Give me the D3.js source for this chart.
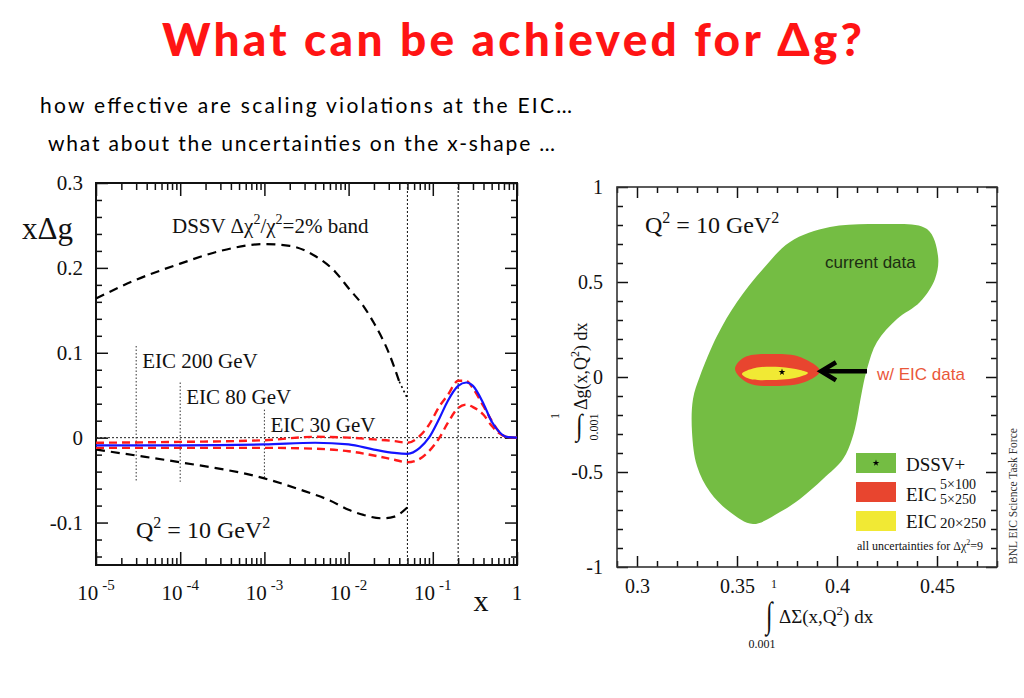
<!DOCTYPE html>
<html>
<head>
<meta charset="utf-8">
<script src="https://cdn.jsdelivr.net/npm/d3@7"></script>
<style>
  body { margin: 0; background: #fff; }
  svg text { font-family: "Liberation Serif", "Times New Roman", serif; fill: #111; }
</style>
</head>
<body>
<div id="chart"></div>
<script>
const width = 1024;
const height = 698;

// ---- left panel: x * Delta g(x) at Q^2 = 10 GeV^2 ----
const curveX      = [1e-5, 1e-4, 1e-3, 4e-3, 1e-2, 2e-2, 3.5e-2, 5e-2, 7e-2, 0.09, 0.12, 0.15, 0.2, 0.25, 0.3, 0.4, 0.5, 0.6, 0.75, 1];
const dssvCentral = [-0.009, -0.009, -0.008, -0.006, -0.008, -0.014, -0.018, -0.019, -0.012, 0.0, 0.023, 0.043, 0.061, 0.065, 0.061, 0.040, 0.019, 0.008, 0.001, 0];
const eicUpper    = [-0.006, -0.005, -0.003, 0.001, 0.0, -0.002, -0.004, -0.006, 0.002, 0.015, 0.037, 0.050, 0.067, 0.067, 0.058, 0.037, 0.020, 0.008, 0.001, 0];
const eicLower    = [-0.012, -0.012, -0.012, -0.013, -0.016, -0.021, -0.026, -0.029, -0.025, -0.016, 0.0, 0.017, 0.035, 0.039, 0.036, 0.027, 0.014, 0.006, 0.001, 0];

const bandUpperX = [1e-5, 3e-5, 1e-4, 3e-4, 1e-3, 2e-3, 4e-3, 7e-3, 1e-2, 1.5e-2, 2e-2, 3e-2, 4e-2];
const bandUpper  = [0.164, 0.186, 0.205, 0.220, 0.228, 0.226, 0.214, 0.195, 0.176, 0.155, 0.135, 0.100, 0.066];
const bandUpperTailX = [4e-2, 5e-2];
const bandUpperTail  = [0.066, 0.046];
const bandLowerX = [1e-5, 3e-5, 1e-4, 1e-3, 3e-3, 6e-3, 1e-2, 1.5e-2, 2.5e-2, 3.5e-2, 5e-2];
const bandLower  = [-0.014, -0.021, -0.029, -0.048, -0.063, -0.074, -0.085, -0.091, -0.095, -0.093, -0.082];

const eicLabels  = ["EIC 200 GeV", "EIC 80 GeV", "EIC 30 GeV"];
const eicXmin    = [3e-5, 1e-4, 1e-3];
const eicLineTop = [0.108, 0.065, 0.033];
const eicLineBot = [-0.052, -0.052, -0.047];
const fullLinesX = [0.05, 0.2];

const leftYTicks  = [0.3, 0.2, 0.1, 0, -0.1];
const leftYLabels = ["0.3", "0.2", "0.1", "0", "-0.1"];
const leftXExp    = [-5, -4, -3, -2, -1];

// ---- right panel: truncated moments ----
const currentData = [
  [0.4215, 0.805], [0.445, 0.779], [0.4505, 0.637], [0.449, 0.516], [0.4415, 0.395],
  [0.430, 0.305], [0.420, 0.184], [0.415, 0.042], [0.4115, -0.132], [0.410, -0.221],
  [0.4075, -0.326], [0.403, -0.432], [0.393, -0.537], [0.3815, -0.642], [0.3715, -0.711],
  [0.358, -0.774], [0.3465, -0.711], [0.3365, -0.605], [0.330, -0.468], [0.3275, -0.289],
  [0.328, -0.116], [0.3315, 0.005], [0.340, 0.216], [0.350, 0.395], [0.363, 0.568],
  [0.3765, 0.711], [0.3965, 0.789]
];
const eicLowE = [
  [0.349, 0.042], [0.354, 0.105], [0.369, 0.121], [0.3815, 0.105],
  [0.3915, 0.032], [0.384, -0.026], [0.369, -0.047], [0.3555, -0.032]
];
const eicHighE = [
  [0.3525, 0.016], [0.359, 0.047], [0.3715, 0.053], [0.3815, 0.037],
  [0.3855, 0.021], [0.379, -0.005], [0.3665, -0.016], [0.3565, -0.011]
];
const dssvBest = [0.3725, 0.026];

const rightXTicks  = [0.3, 0.35, 0.4, 0.45];
const rightXLabels = ["0.3", "0.35", "0.4", "0.45"];
const rightYTicks  = [1, 0.5, 0, -0.5, -1];
const rightYLabels = ["1", "0.5", "0", "-0.5", "-1"];

const RED_TITLE = "#ff1414";
const GREEN = "#74bd43";
const RED_FILL = "#e8452f";
const YELLOW = "#f1e934";

const svg = d3.select("#chart").append("svg")
  .attr("width", width).attr("height", height)
  .style("background", "#fff");

// titles
svg.append("text").attr("x", 162).attr("y", 56)
  .attr("textLength", 700).attr("lengthAdjust", "spacing")
  .style("font-family", "Lato, 'Noto Sans', sans-serif").style("font-weight", 900)
  .style("font-size", "46px").style("fill", RED_TITLE)
  .text("What can be achieved for Δg?");
svg.append("text").attr("x", 40).attr("y", 113)
  .attr("textLength", 532).attr("lengthAdjust", "spacing")
  .style("font-family", "Lato, 'Noto Sans', sans-serif").style("font-size", "21px").style("fill", "#000")
  .text("how effective are scaling violations at the EIC…");
svg.append("text").attr("x", 48).attr("y", 151)
  .attr("textLength", 507).attr("lengthAdjust", "spacing")
  .style("font-family", "Lato, 'Noto Sans', sans-serif").style("font-size", "21px").style("fill", "#000")
  .text("what about the uncertainties on the x-shape …");

function tickLayer(g, axis, transform) {
  g.append("g").attr("transform", transform).call(axis)
    .call(s => s.select(".domain").remove())
    .call(s => s.selectAll("line").attr("stroke", "#111").attr("stroke-width", 1.5));
}

// ================= LEFT PANEL =================
const xL = d3.scaleLog().domain([1e-5, 1]).range([96, 517]);
const yL = d3.scaleLinear().domain([-0.15, 0.3]).range([565, 183]);
const left = svg.append("g");

const decades = [1e-5, 1e-4, 1e-3, 1e-2, 1e-1, 1];
const minorLog = [];
decades.slice(0, -1).forEach(d => { for (let m = 2; m < 10; m++) minorLog.push(m * d); });
const minorLinL = d3.range(-0.14, 0.3, 0.02).filter(v => Math.abs(Math.round(v * 10) - v * 10) > 1e-6);

tickLayer(left, d3.axisBottom(xL).tickValues(decades).tickSize(-13).tickFormat(""), `translate(0,${yL(-0.15)})`);
tickLayer(left, d3.axisBottom(xL).tickValues(minorLog).tickSize(-7).tickFormat(""), `translate(0,${yL(-0.15)})`);
tickLayer(left, d3.axisTop(xL).tickValues(decades).tickSize(-13).tickFormat(""), `translate(0,${yL(0.3)})`);
tickLayer(left, d3.axisTop(xL).tickValues(minorLog).tickSize(-7).tickFormat(""), `translate(0,${yL(0.3)})`);
tickLayer(left, d3.axisLeft(yL).tickValues(leftYTicks).tickSize(-12).tickFormat(""), `translate(${xL(1e-5)},0)`);
tickLayer(left, d3.axisLeft(yL).tickValues(minorLinL).tickSize(-6).tickFormat(""), `translate(${xL(1e-5)},0)`);
tickLayer(left, d3.axisRight(yL).tickValues(leftYTicks).tickSize(-12).tickFormat(""), `translate(${xL(1)},0)`);
tickLayer(left, d3.axisRight(yL).tickValues(minorLinL).tickSize(-6).tickFormat(""), `translate(${xL(1)},0)`);

left.append("rect").attr("x", xL(1e-5)).attr("y", yL(0.3))
  .attr("width", xL(1) - xL(1e-5)).attr("height", yL(-0.15) - yL(0.3))
  .attr("fill", "none").attr("stroke", "#111").attr("stroke-width", 2);

// y tick labels
left.append("g").attr("transform", `translate(${xL(1e-5)},0)`)
  .call(d3.axisLeft(yL).tickValues(leftYTicks).tickSize(0).tickPadding(13)
    .tickFormat((d, i) => leftYLabels[i]))
  .call(s => s.select(".domain").remove())
  .attr("font-family", null).attr("font-size", null)
  .selectAll("text").style("font-size", "21px").attr("fill", "#111");

// x tick labels 10^n
leftXExp.forEach(e => {
  const t = left.append("text").attr("x", xL(Math.pow(10, e))).attr("y", 600)
    .attr("text-anchor", "middle").style("font-size", "21px");
  t.append("tspan").text("10");
  t.append("tspan").attr("dx", 4).attr("dy", -10).style("font-size", "15px").text(String(e));
});
left.append("text").attr("x", xL(1)).attr("y", 600).attr("text-anchor", "middle")
  .style("font-size", "21px").text("1");
left.append("text").attr("x", 481).attr("y", 611).attr("text-anchor", "middle")
  .style("font-size", "30px").text("x");

// reference lines
left.append("line").attr("x1", xL(1e-5)).attr("x2", xL(1)).attr("y1", yL(0)).attr("y2", yL(0))
  .attr("stroke", "#222").attr("stroke-width", 1).attr("stroke-dasharray", "2,2");
fullLinesX.forEach(v => {
  left.append("line").attr("x1", xL(v)).attr("x2", xL(v)).attr("y1", yL(0.3)).attr("y2", yL(-0.15))
    .attr("stroke", "#222").attr("stroke-width", 1.1).attr("stroke-dasharray", "2,2");
});
eicLabels.forEach((lab, i) => {
  left.append("line").attr("x1", xL(eicXmin[i])).attr("x2", xL(eicXmin[i]))
    .attr("y1", yL(eicLineTop[i])).attr("y2", yL(eicLineBot[i]))
    .attr("stroke", "#333").attr("stroke-width", 1).attr("stroke-dasharray", "1.5,2");
  left.append("text").attr("x", xL(eicXmin[i]) + 6).attr("y", yL(eicLineTop[i]) + 22)
    .style("font-size", "21px").text(lab);
});

// curves
const lineL = d3.line().x(d => xL(d[0])).y(d => yL(d[1])).curve(d3.curveMonotoneX);
const zipL = (xs, ys) => xs.map((x, i) => [x, ys[i]]);

left.append("path").datum(zipL(bandUpperX, bandUpper)).attr("d", lineL)
  .attr("fill", "none").attr("stroke", "#000").attr("stroke-width", 2.2).attr("stroke-dasharray", "9,6");
left.append("path").datum(zipL(bandUpperTailX, bandUpperTail)).attr("d", lineL)
  .attr("fill", "none").attr("stroke", "#000").attr("stroke-width", 1.6).attr("stroke-dasharray", "2,3");
left.append("path").datum(zipL(bandLowerX, bandLower)).attr("d", lineL)
  .attr("fill", "none").attr("stroke", "#000").attr("stroke-width", 2.2).attr("stroke-dasharray", "9,6");
left.append("path").datum(zipL(curveX, eicUpper)).attr("d", lineL)
  .attr("fill", "none").attr("stroke", "#ff1a1a").attr("stroke-width", 2.4).attr("stroke-dasharray", "8,5");
left.append("path").datum(zipL(curveX, eicLower)).attr("d", lineL)
  .attr("fill", "none").attr("stroke", "#ff1a1a").attr("stroke-width", 2.4).attr("stroke-dasharray", "8,5");
left.append("path").datum(zipL(curveX, dssvCentral)).attr("d", lineL)
  .attr("fill", "none").attr("stroke", "#1414ff").attr("stroke-width", 2.2);

// annotations
left.append("text").attr("x", 22).attr("y", 239).style("font-size", "31px").text("xΔg");
const dssvLab = left.append("text").attr("x", 172).attr("y", 233).style("font-size", "21px");
dssvLab.append("tspan").text("DSSV Δχ");
dssvLab.append("tspan").attr("dy", -9).style("font-size", "14px").text("2");
dssvLab.append("tspan").attr("dy", 9).text("/χ");
dssvLab.append("tspan").attr("dy", -9).style("font-size", "14px").text("2");
dssvLab.append("tspan").attr("dy", 9).text("=2% band");
const qLeft = left.append("text").attr("x", 136).attr("y", 538).style("font-size", "24px");
qLeft.append("tspan").text("Q");
qLeft.append("tspan").attr("dy", -10).style("font-size", "16px").text("2");
qLeft.append("tspan").attr("dy", 10).text(" = 10 GeV");
qLeft.append("tspan").attr("dy", -10).style("font-size", "16px").text("2");

// ================= RIGHT PANEL =================
const xR = d3.scaleLinear().domain([0.29, 0.48]).range([617, 997]);
const yR = d3.scaleLinear().domain([-1, 1]).range([567, 187]);
const right = svg.append("g");

const minorXR = d3.range(0.29, 0.4801, 0.01).filter(v => !rightXTicks.some(t => Math.abs(t - v) < 1e-6));
const minorYR = d3.range(-0.9, 0.95, 0.1).filter(v => !rightYTicks.some(t => Math.abs(t - v) < 1e-6));

const blob = d3.line().x(d => xR(d[0])).y(d => yR(d[1])).curve(d3.curveCatmullRomClosed.alpha(0.5));
right.append("path").datum(currentData).attr("d", blob).attr("fill", GREEN);
right.append("path").datum(eicLowE).attr("d", blob).attr("fill", RED_FILL);
right.append("path").datum(eicHighE).attr("d", blob).attr("fill", YELLOW);
right.append("path").attr("d", d3.symbol(d3.symbolStar, 14)())
  .attr("transform", `translate(${xR(dssvBest[0])},${yR(dssvBest[1])})`).attr("fill", "#000");

tickLayer(right, d3.axisBottom(xR).tickValues(rightXTicks).tickSize(-11).tickFormat(""), `translate(0,${yR(-1)})`);
tickLayer(right, d3.axisBottom(xR).tickValues(minorXR).tickSize(-6).tickFormat(""), `translate(0,${yR(-1)})`);
tickLayer(right, d3.axisTop(xR).tickValues(rightXTicks).tickSize(-11).tickFormat(""), `translate(0,${yR(1)})`);
tickLayer(right, d3.axisTop(xR).tickValues(minorXR).tickSize(-6).tickFormat(""), `translate(0,${yR(1)})`);
tickLayer(right, d3.axisLeft(yR).tickValues(rightYTicks).tickSize(-11).tickFormat(""), `translate(${xR(0.29)},0)`);
tickLayer(right, d3.axisLeft(yR).tickValues(minorYR).tickSize(-6).tickFormat(""), `translate(${xR(0.29)},0)`);
tickLayer(right, d3.axisRight(yR).tickValues(rightYTicks).tickSize(-11).tickFormat(""), `translate(${xR(0.48)},0)`);
tickLayer(right, d3.axisRight(yR).tickValues(minorYR).tickSize(-6).tickFormat(""), `translate(${xR(0.48)},0)`);

right.append("rect").attr("x", xR(0.29)).attr("y", yR(1))
  .attr("width", xR(0.48) - xR(0.29)).attr("height", yR(-1) - yR(1))
  .attr("fill", "none").attr("stroke", "#333").attr("stroke-width", 1.6);

right.append("g").attr("transform", `translate(${xR(0.29)},0)`)
  .call(d3.axisLeft(yR).tickValues(rightYTicks).tickSize(0).tickPadding(14)
    .tickFormat((d, i) => rightYLabels[i]))
  .call(s => s.select(".domain").remove())
  .attr("font-family", null).attr("font-size", null)
  .selectAll("text").style("font-size", "20px").attr("fill", "#222");
right.append("g").attr("transform", `translate(0,${yR(-1)})`)
  .call(d3.axisBottom(xR).tickValues(rightXTicks).tickSize(0).tickPadding(12)
    .tickFormat((d, i) => rightXLabels[i]))
  .call(s => s.select(".domain").remove())
  .attr("font-family", null).attr("font-size", null)
  .selectAll("text").style("font-size", "20px").attr("fill", "#222");

// axis titles
const xt = right.append("g");
xt.append("text").attr("transform", "translate(766,627) scale(1,1.5)").style("font-size", "24px").text("∫");
xt.append("text").attr("x", 774).attr("y", 588).attr("text-anchor", "middle").style("font-size", "12px").text("1");
xt.append("text").attr("x", 762).attr("y", 648).attr("text-anchor", "middle").style("font-size", "12px").text("0.001");
const xtt = xt.append("text").attr("x", 779).attr("y", 623).style("font-size", "19px");
xtt.append("tspan").text("ΔΣ(x,Q");
xtt.append("tspan").attr("dy", -8).style("font-size", "13px").text("2");
xtt.append("tspan").attr("dy", 8).text(") dx");

right.append("text").attr("transform", "translate(576,435) scale(1,1.25)").style("font-size", "24px").text("∫");
const yt = right.append("g").attr("transform", "translate(589,410) rotate(-90)");
yt.append("text").attr("x", -6).attr("y", -30).attr("text-anchor", "middle").style("font-size", "12px").text("1");
yt.append("text").attr("x", -17).attr("y", 9).attr("text-anchor", "middle").style("font-size", "12px").text("0.001");
const ytt = yt.append("text").attr("x", 0).attr("y", -2).style("font-size", "18px");
ytt.append("tspan").text("Δg(x,Q");
ytt.append("tspan").attr("dy", -8).style("font-size", "12px").text("2");
ytt.append("tspan").attr("dy", 8).text(") dx");

const qRight = right.append("text").attr("x", 645).attr("y", 233).style("font-size", "24px");
qRight.append("tspan").text("Q");
qRight.append("tspan").attr("dy", -10).style("font-size", "16px").text("2");
qRight.append("tspan").attr("dy", 10).text(" = 10 GeV");
qRight.append("tspan").attr("dy", -10).style("font-size", "16px").text("2");

right.append("text").attr("x", 825).attr("y", 268)
  .style("font-family", "'Liberation Sans', Arial, sans-serif").style("font-size", "17px").style("fill", "#1c2e12")
  .text("current data");
right.append("text").attr("x", 877).attr("y", 380)
  .style("font-family", "'Liberation Sans', Arial, sans-serif").style("font-size", "17px").style("fill", "#ea573a")
  .text("w/ EIC data");

// arrow pointing at the EIC ellipse
const arrowY = yR(0.03);
right.append("line").attr("x1", 867).attr("x2", 824).attr("y1", arrowY).attr("y2", arrowY)
  .attr("stroke", "#000").attr("stroke-width", 4.5);
right.append("path").attr("d", `M836,${arrowY - 9} L821,${arrowY} L836,${arrowY + 9}`)
  .attr("fill", "none").attr("stroke", "#000").attr("stroke-width", 4.5).attr("stroke-linejoin", "miter");

// legend
const legendColors = [GREEN, RED_FILL, YELLOW];
const legendY = [453, 482, 511];
legendColors.forEach((c, i) => {
  right.append("rect").attr("x", 856).attr("y", legendY[i]).attr("width", 40).attr("height", 20).attr("fill", c);
});
right.append("path").attr("d", d3.symbol(d3.symbolStar, 14)())
  .attr("transform", "translate(876,463)").attr("fill", "#000");
right.append("text").attr("x", 906).attr("y", 471).style("font-size", "19px").text("DSSV+");
right.append("text").attr("x", 906).attr("y", 501).style("font-size", "19px").text("EIC");
right.append("text").attr("x", 940).attr("y", 489).style("font-size", "14px").text("5×100");
right.append("text").attr("x", 940).attr("y", 504).style("font-size", "14px").text("5×250");
right.append("text").attr("x", 906).attr("y", 528).style("font-size", "19px").text("EIC");
right.append("text").attr("x", 940).attr("y", 528).style("font-size", "15px").text("20×250");
const unc = right.append("text").attr("x", 857).attr("y", 550).style("font-size", "12px");
unc.append("tspan").text("all uncertainties for Δχ");
unc.append("tspan").attr("dy", -5).style("font-size", "8px").text("2");
unc.append("tspan").attr("dy", 5).text("=9");

right.append("text").attr("transform", "translate(1017,564) rotate(-90)")
  .style("font-size", "11.5px").style("fill", "#333").text("BNL EIC Science Task Force");
</script>
</body>
</html>
